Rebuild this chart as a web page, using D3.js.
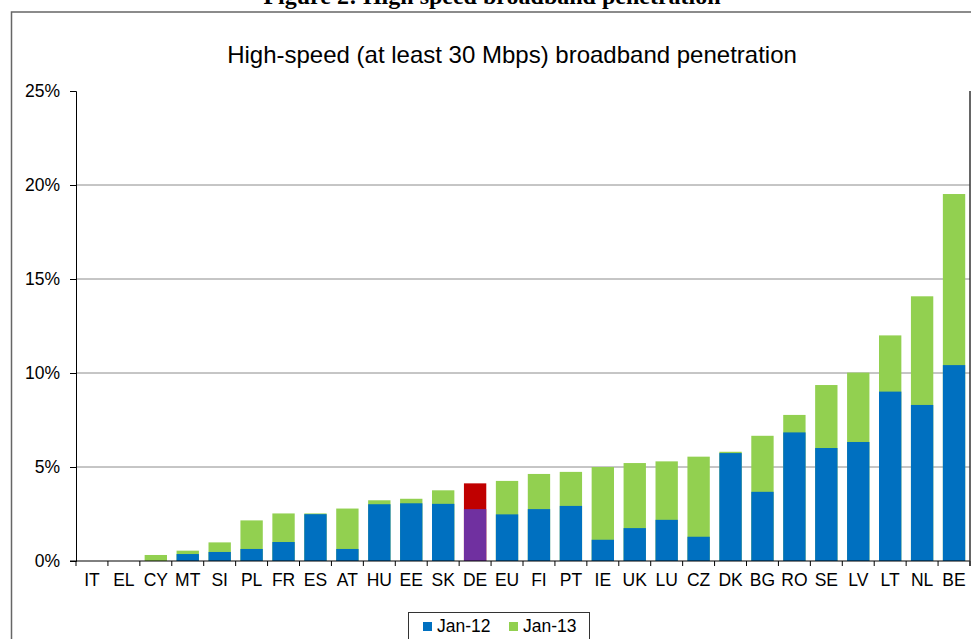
<!DOCTYPE html>
<html>
<head>
<meta charset="utf-8">
<script src="https://cdn.jsdelivr.net/npm/d3@7"></script>
<style>
  body { margin: 0; background: #fff; }
  text { font-family: "Liberation Sans", Arial, sans-serif; fill: #000; }
</style>
</head>
<body>
<svg id="chart" width="971" height="639"></svg>
<script>
// countries, sorted the way the source sorts them
const countries = ["IT", "EL", "CY", "MT", "SI", "PL", "FR", "ES", "AT", "HU", "EE", "SK", "DE", "EU",
  "FI", "PT", "IE", "UK", "LU", "CZ", "DK", "BG", "RO", "SE", "LV", "LT", "NL", "BE"];

// penetration in %
const jan12 = [0, 0, 0, 0.37, 0.48, 0.64, 1.01, 2.49, 0.64, 3.02, 3.07, 3.04, 2.76, 2.48,
  2.76, 2.93, 1.13, 1.75, 2.19, 1.29, 5.74, 3.68, 6.84, 6.01, 6.33, 9.01, 8.3, 10.42];
const jan13 = [0, 0, 0.32, 0.55, 0.99, 2.16, 2.53, 2.53, 2.79, 3.23, 3.31, 3.76, 4.13, 4.26,
  4.63, 4.74, 5.0, 5.21, 5.3, 5.55, 5.81, 6.66, 7.77, 9.36, 10.02, 12.0, 14.08, 19.52];

const yTicks = [0, 5, 10, 15, 20, 25];
const seriesNames = ["Jan-12", "Jan-13"];

const blue = "#0070C0", green = "#92D050";
// Germany is highlighted in the source
const hiliteOld = "#7030A0", hiliteNew = "#C00000";

const data = countries.map((c, i) => ({ c: c, a: jan12[i], b: jan13[i] }));

const svg = d3.select("#chart");
const plotL = 76, plotR = 970, plotT = 91, plotB = 561;

const x = d3.scaleBand()
    .domain(countries)
    .range([plotL, plotR])
    .paddingInner(0.3)
    .paddingOuter(0.15);

const y = d3.scaleLinear().domain([0, 25]).range([plotB, plotT]);

// outer frame
svg.append("rect")
    .attr("x", 11.5).attr("y", 12)
    .attr("width", 975).attr("height", 640)
    .attr("fill", "none").attr("stroke", "#666").attr("stroke-width", 1.5);

// figure caption, cut off at the top like the original
svg.append("text")
    .attr("x", 492).attr("y", 3.5)
    .attr("text-anchor", "middle")
    .style("font-family", "'Liberation Serif', 'Times New Roman', serif")
    .style("font-weight", "bold")
    .style("font-size", "24px")
    .text("Figure 2: High speed broadband penetration");

svg.append("text")
    .attr("x", 512).attr("y", 63)
    .attr("text-anchor", "middle")
    .style("font-size", "24px")
    .text("High-speed (at least 30 Mbps) broadband penetration");

// gridlines
svg.append("g")
    .selectAll("line")
    .data(yTicks.filter(d => d > 0 && d < 25))
    .join("line")
    .attr("x1", plotL).attr("x2", plotR)
    .attr("y1", d => y(d)).attr("y2", d => y(d))
    .attr("stroke", "#8c8c8c").attr("stroke-width", 1);

// bars: Jan-13 behind, Jan-12 in front
const bars = svg.append("g");
bars.selectAll(".new")
    .data(data)
    .join("rect")
    .attr("class", "new")
    .attr("x", d => x(d.c))
    .attr("width", x.bandwidth())
    .attr("y", d => y(d.b))
    .attr("height", d => y(0) - y(d.b))
    .attr("fill", d => d.c == "DE" ? hiliteNew : green);

bars.selectAll(".old")
    .data(data)
    .join("rect")
    .attr("class", "old")
    .attr("x", d => x(d.c))
    .attr("width", x.bandwidth())
    .attr("y", d => y(d.a))
    .attr("height", d => y(0) - y(d.a))
    .attr("fill", d => d.c == "DE" ? hiliteOld : blue);

// y axis
const yAxis = svg.append("g")
    .attr("transform", `translate(${plotL},0)`)
    .call(d3.axisLeft(y).tickValues(yTicks).tickFormat(d => d + "%").tickSize(6).tickPadding(10));
yAxis.select(".domain").attr("stroke", "#000");
yAxis.selectAll("text").style("font-size", "17.5px").style("font-family", "'Liberation Sans', Arial, sans-serif");

// x axis, ticks between the categories
const xAxis = svg.append("g")
    .attr("transform", `translate(0,${plotB})`)
    .call(d3.axisBottom(x).tickSize(0).tickPadding(13));
xAxis.select(".domain").attr("stroke", "#000").attr("d", `M${plotL - 6},0H${plotR}`);
xAxis.selectAll("text").style("font-size", "17.5px").style("font-family", "'Liberation Sans', Arial, sans-serif");

const step = x.step();
svg.append("g")
    .selectAll("line")
    .data(d3.range(countries.length + 1))
    .join("line")
    .attr("x1", i => plotL + i * step).attr("x2", i => plotL + i * step)
    .attr("y1", plotB).attr("y2", plotB + 5)
    .attr("stroke", "#000");

// right edge of the plot
svg.append("line")
    .attr("x1", plotR).attr("x2", plotR)
    .attr("y1", plotT).attr("y2", plotB + 5)
    .attr("stroke", "#333").attr("stroke-width", 1.5);

// legend
const lg = svg.append("g");
lg.append("rect")
    .attr("x", 408.5).attr("y", 612.5)
    .attr("width", 181).attr("height", 30)
    .attr("fill", "#fff").attr("stroke", "#333");

const lx = [423, 509];
const lcol = [blue, green];
lg.selectAll(".sw")
    .data(seriesNames)
    .join("rect")
    .attr("class", "sw")
    .attr("x", (d, i) => lx[i]).attr("y", 622)
    .attr("width", 9).attr("height", 9)
    .attr("fill", (d, i) => lcol[i]);
lg.selectAll(".lt")
    .data(seriesNames)
    .join("text")
    .attr("class", "lt")
    .attr("x", (d, i) => lx[i] + 14).attr("y", 632)
    .style("font-size", "17.5px")
    .text(d => d);
</script>
</body>
</html>
